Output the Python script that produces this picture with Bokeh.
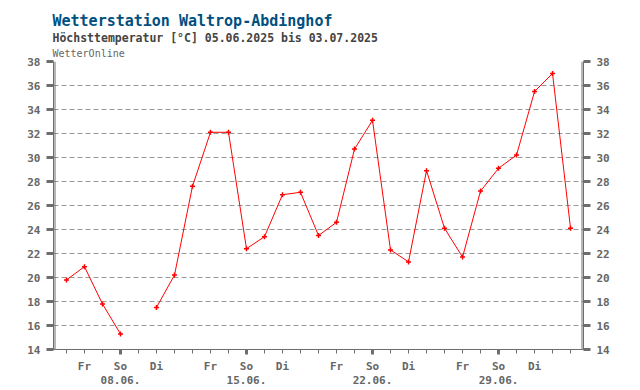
from bokeh.plotting import figure
from bokeh.models import (LinearAxis, FixedTicker, Range1d, Span, Title, Grid,
                          ColumnDataSource)
from bokeh.embed import file_html
from bokeh.resources import INLINE

# ---- data ----
day_index = list(range(29))  # 05.06.2025 .. 03.07.2025
tmax = [19.8, 20.9, 17.8, 15.3, float("nan"), 17.5, 20.2, 27.6, 32.1, 32.1,
        22.4, 23.4, 26.9, 27.1, 23.5, 24.6, 30.7, 33.1, 22.3, 21.3,
        28.9, 24.1, 21.7, 27.2, 29.1, 30.2, 35.5, 37.0, 24.1]
weekday_ticks = [1, 3, 5, 8, 10, 12, 15, 17, 19, 22, 24, 26]
weekday_labels = ["Fr", "So", "Di"] * 4
sunday_ticks = [3, 10, 17, 24]
sunday_labels = ["08.06.", "15.06.", "22.06.", "29.06."]
y_ticks = list(range(14, 39, 2))

title_text = "Wetterstation Waltrop-Abdinghof"
subtitle_text = "Höchsttemperatur [°C] 05.06.2025 bis 03.07.2025"
source_text = "WetterOnline"

FONT = "DejaVu Sans Mono"
GRAY = "#666666"
AXIS = "#6e6e6e"

src = ColumnDataSource(dict(x=day_index, y=tmax))

p = figure(frame_width=530, frame_height=288, output_backend="svg",
           toolbar_location=None, x_range=Range1d(-0.72, 28.72),
           y_range=Range1d(14, 38), min_border_left=53, min_border_right=55,
           min_border_top=61, min_border_bottom=38)
p.xaxis.visible = False
p.yaxis.visible = False
p.xgrid.visible = False
p.ygrid.visible = False
p.outline_line_color = None
p.background_fill_color = "white"
p.border_fill_color = "white"

# titles (first added = closest to the frame)
p.add_layout(Title(text=source_text, align="left", offset=-1, standoff=5,
                   text_font=FONT, text_font_size="10px",
                   text_font_style="normal", text_color=GRAY), "above")
p.add_layout(Title(text=subtitle_text, align="left", offset=-1, standoff=-2,
                   text_font=FONT, text_font_size="11.5px",
                   text_font_style="bold", text_color="#444444"), "above")
p.add_layout(Title(text=title_text, align="left", offset=-1, standoff=0,
                   text_font=FONT, text_font_size="15px",
                   text_font_style="bold", text_color="#00507f"), "above")

# y axes left & right
for side in ("left", "right"):
    ax = LinearAxis(ticker=FixedTicker(ticks=y_ticks, minor_ticks=[]))
    ax.axis_line_color = AXIS
    ax.axis_line_width = 1
    ax.major_tick_in = 0
    ax.major_tick_out = 7
    ax.major_tick_line_width = 3
    ax.major_tick_line_color = AXIS
    ax.minor_tick_line_color = None
    ax.major_label_standoff = 6
    ax.major_label_text_font = FONT
    ax.major_label_text_font_size = "11px"
    ax.major_label_text_font_style = "bold"
    ax.major_label_text_color = GRAY
    p.add_layout(ax, side)

# horizontal dashed grid
g = Grid(dimension=1, ticker=FixedTicker(ticks=y_ticks))
g.grid_line_color = "#999999"
g.grid_line_dash = "5 3"
g.grid_line_width = 1
p.add_layout(g)

# x axis A: tick marks only
axA = LinearAxis(ticker=FixedTicker(ticks=sunday_ticks, minor_ticks=day_index))
axA.axis_line_color = AXIS
axA.major_tick_in = 0
axA.major_tick_out = 5
axA.major_tick_line_width = 3
axA.major_tick_line_color = AXIS
axA.minor_tick_in = 0
axA.minor_tick_out = 4
axA.minor_tick_line_color = AXIS
axA.major_label_overrides = {d: "" for d in sunday_ticks}
axA.major_label_text_font_size = "1px"
axA.major_label_standoff = 0
p.add_layout(axA, "below")

# x axis B: weekday labels
axB = LinearAxis(ticker=FixedTicker(ticks=weekday_ticks, minor_ticks=[]))
axB.axis_line_color = None
axB.major_tick_in = 0
axB.major_tick_out = 0
axB.major_tick_line_color = None
axB.minor_tick_line_color = None
axB.major_label_overrides = dict(zip(weekday_ticks, weekday_labels))
axB.major_label_standoff = 5
axB.major_label_text_font = FONT
axB.major_label_text_font_size = "11px"
axB.major_label_text_font_style = "bold"
axB.major_label_text_color = GRAY
p.add_layout(axB, "below")

# x axis C: dates
axC = LinearAxis(ticker=FixedTicker(ticks=sunday_ticks, minor_ticks=[]))
axC.axis_line_color = None
axC.major_tick_in = 0
axC.major_tick_out = 0
axC.major_tick_line_color = None
axC.minor_tick_line_color = None
axC.major_label_overrides = dict(zip(sunday_ticks, sunday_labels))
axC.major_label_standoff = 0
axC.major_label_text_font = FONT
axC.major_label_text_font_size = "11px"
axC.major_label_text_font_style = "bold"
axC.major_label_text_color = GRAY
p.add_layout(axC, "below")

# inner double lines
p.add_layout(Span(location=1.5, location_units="screen", dimension="height",
                  line_color=AXIS, line_width=1))
p.add_layout(Span(location=528.5, location_units="screen", dimension="height",
                  line_color=AXIS, line_width=1))

# data
p.line("x", "y", source=src, line_color="#ff0000", line_width=1)
p.scatter("x", "y", source=src, marker="cross", size=5, line_width=1.5,
          line_color="#ff0000")

open("out.html", "w").write(file_html(p, INLINE))
